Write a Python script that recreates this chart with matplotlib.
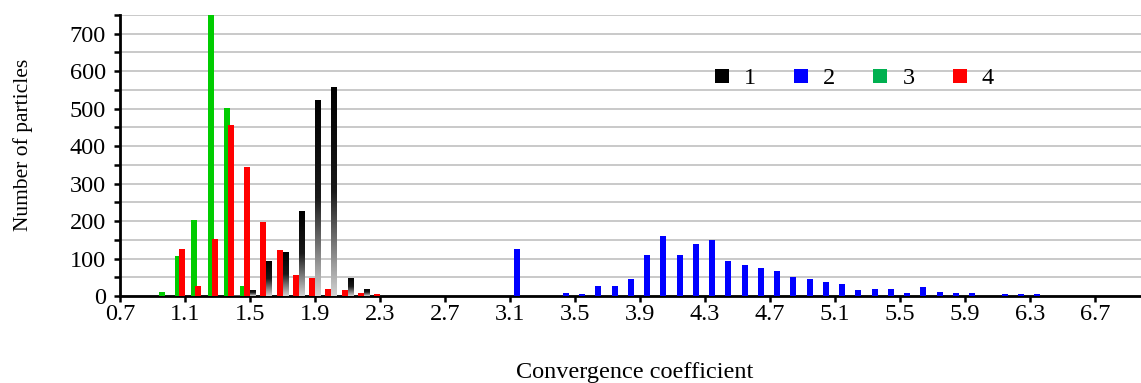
import numpy as np
import matplotlib
matplotlib.use('Agg')
import matplotlib.pyplot as plt
from matplotlib.patches import Patch
from matplotlib.colors import LinearSegmentedColormap

# ---- data ----
s1_x = [1.4, 1.5, 1.6, 1.7, 1.8, 1.9, 2.0, 2.1, 2.2]
s1_y = [2, 17, 93, 117, 226, 523, 557, 49, 19]

s2_x = [3.1, 3.4, 3.5, 3.6, 3.7, 3.8, 3.9, 4.0, 4.1, 4.2, 4.3, 4.4, 4.5, 4.6, 4.7,
        4.8, 4.9, 5.0, 5.1, 5.2, 5.3, 5.4, 5.5, 5.6, 5.7, 5.8, 5.9, 6.1, 6.2, 6.3]
s2_y = [125, 9, 6, 27, 28, 45, 110, 161, 110, 140, 150, 93, 83, 75, 67,
        50, 45, 38, 32, 17, 20, 20, 7, 23, 10, 8, 7, 5, 5, 5]

s3_x = [1.0, 1.1, 1.2, 1.3, 1.4, 1.5]
s3_y = [10, 106, 202, 750, 503, 27]

s4_x = [1.1, 1.2, 1.3, 1.4, 1.5, 1.6, 1.7, 1.8, 1.9, 2.0, 2.1, 2.2, 2.3]
s4_y = [125, 28, 153, 457, 345, 198, 122, 57, 49, 20, 16, 8, 5]

series_names = ['1', '2', '3', '4']
x_ticks = [0.7, 1.1, 1.5, 1.9, 2.3, 2.7, 3.1, 3.5, 3.9, 4.3, 4.7, 5.1, 5.5, 5.9, 6.3, 6.7]
x_ticklabels = ['0.7', '1.1', '1.5', '1.9', '2.3', '2.7', '3.1', '3.5', '3.9',
                '4.3', '4.7', '5.1', '5.5', '5.9', '6.3', '6.7']
y_ticks = [0, 100, 200, 300, 400, 500, 600, 700]

# ---- style ----
plt.rcParams['font.family'] = ['Liberation Serif', 'DejaVu Serif']
FS = 17.5

W, H = 1141, 383
fig = plt.figure(figsize=(W / 100, H / 100), dpi=100)
left_px, right_px, bottom_px, top_px = 120, 1141, 296, 15
ax = fig.add_axes([left_px / W, (H - bottom_px) / H,
                   (right_px - left_px) / W, (bottom_px - top_px) / H])

xmin = 0.7
px_per_unit = 162.5
xmax = xmin + (right_px - left_px) / px_per_unit
u = 1.0 / px_per_unit
bw = 6 * u

# green (3) and red (4) bars
ax.bar(np.array(s3_x) - 7 * u, s3_y, width=bw, color='#00cc00', zorder=3)
ax.bar(np.array(s4_x) - 3 * u, s4_y, width=bw, color='#ff0000', zorder=4)
# blue (2)
ax.bar(np.array(s2_x) + 7 * u, s2_y, width=bw, color='#0000ff', zorder=3)
# black (1) with vertical gradient
bars1 = ax.bar(np.array(s1_x) + 3 * u, s1_y, width=bw, facecolor='none',
               edgecolor='none', zorder=3)
cmap = LinearSegmentedColormap.from_list('blk', ['#000000', '#1a1a1a', '#d2d2d2'])
grad = np.linspace(0, 1, 256).reshape(-1, 1)
for b in bars1:
    x0 = b.get_x()
    x1 = x0 + b.get_width()
    h = b.get_height()
    im = ax.imshow(grad, extent=(x0, x1, 0, h), origin='upper', cmap=cmap,
                   aspect='auto', interpolation='bilinear', zorder=3)
    im.set_clip_path(b)

ax.set_xlim(xmin, xmax)
ax.set_ylim(0, 750)
ax.set_aspect('auto')

ax.set_xticks(x_ticks)
ax.set_xticklabels(x_ticklabels)
ax.set_yticks(y_ticks)
ax.set_yticks(np.arange(50, 751, 100), minor=True)

ax.grid(True, axis='y', which='both', color='#c0c0c0', linewidth=1.2, zorder=0)
ax.set_axisbelow(True)

for s in ['top', 'right']:
    ax.spines[s].set_visible(False)
for s in ['left', 'bottom']:
    ax.spines[s].set_linewidth(2.0)
    ax.spines[s].set_color('black')
    ax.spines[s].set_zorder(2.5)

ax.tick_params(axis='x', which='major', direction='out', length=4, width=1.8,
               labelsize=FS, pad=2)
ax.tick_params(axis='y', which='both', direction='out', length=4, width=1.8,
               labelsize=FS, pad=6)

ax.set_xlabel('Convergence coefficient', fontsize=FS)
ax.xaxis.set_label_coords((635 - left_px) / (right_px - left_px),
                          (bottom_px - 362) / (bottom_px - top_px))
ax.set_ylabel('Number of particles', fontsize=15.5)
ax.yaxis.set_label_coords((33 - left_px) / (right_px - left_px),
                          (bottom_px - 145) / (bottom_px - top_px))

em = FS * 100 / 72.0
handles = [Patch(facecolor='#000000'), Patch(facecolor='#0000ff'),
           Patch(facecolor='#00b050'), Patch(facecolor='#ff0000')]
ax.legend(handles, series_names, ncol=4, frameon=False, fontsize=FS,
          loc='center left',
          bbox_to_anchor=((715 - left_px) / (right_px - left_px),
                          (bottom_px - 79) / (bottom_px - top_px)),
          borderpad=0, borderaxespad=0, handlelength=14 / em, handleheight=13 / em,
          handletextpad=15 / em, columnspacing=38 / em)

fig.savefig('out.png', dpi=100)
